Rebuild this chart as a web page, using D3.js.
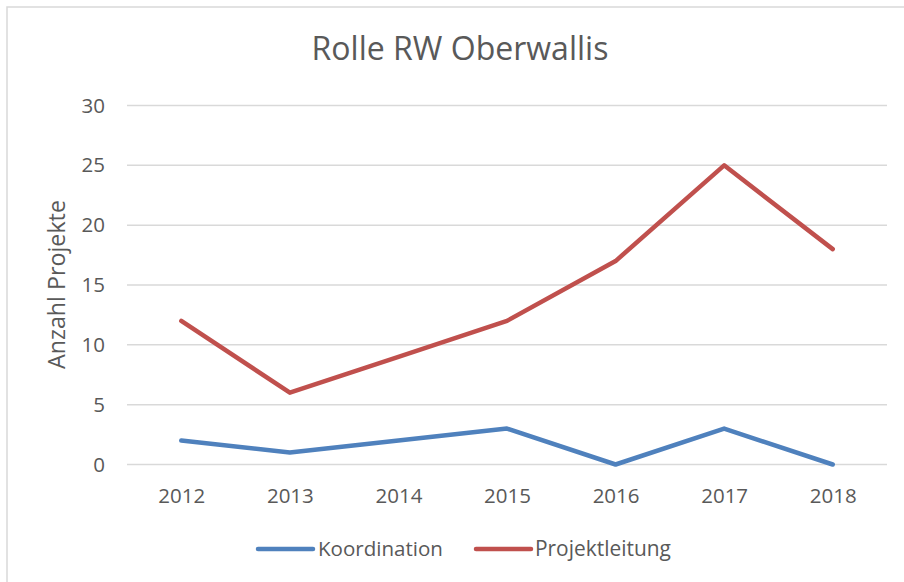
<!DOCTYPE html>
<html>
<head>
<meta charset="utf-8">
<script src="https://cdn.jsdelivr.net/npm/d3@7"></script>
<style>
  html, body { margin: 0; padding: 0; background: #fff; }
  svg { display: block; }
  text { font-family: "Open Sans", "Noto Sans", sans-serif; fill: #595959; }
</style>
</head>
<body>
<svg id="chart" width="904" height="582"></svg>
<script>
const title = "Rolle RW Oberwallis";
const yAxisLabel = "Anzahl Projekte";
const years = ["2012", "2013", "2014", "2015", "2016", "2017", "2018"];
const koordination = [2, 1, 2, 3, 0, 3, 0];
const projektleitung = [12, 6, 9, 12, 17, 25, 18];
const yTicks = [0, 5, 10, 15, 20, 25, 30];
const seriesNames = ["Koordination", "Projektleitung"];
const seriesColors = ["#4F81BD", "#C0504D"];

const svg = d3.select("#chart");

// chart border (extends beyond the right/bottom edges like the reference)
svg.append("rect")
  .attr("x", 7).attr("y", 7).attr("width", 910).attr("height", 590)
  .attr("fill", "#fff").attr("stroke", "#d9d9d9").attr("stroke-width", 1.5);

const plot = { left: 127, right: 887, top: 105.5, bottom: 464.5 };

const x = d3.scalePoint().domain(years).range([plot.left, plot.right]).padding(0.5);
const y = d3.scaleLinear().domain([0, 30]).range([plot.bottom, plot.top]);

function fit(sel, target) {
  const w = sel.node().getComputedTextLength();
  const fs = parseFloat(sel.attr("font-size"));
  sel.attr("font-size", fs * target / w);
}

// gridlines
svg.append("g").selectAll("line").data(yTicks).join("line")
  .attr("x1", plot.left).attr("x2", plot.right)
  .attr("y1", d => y(d)).attr("y2", d => y(d))
  .attr("stroke", "#d9d9d9").attr("stroke-width", 1.5);

// y tick labels
const yAxis = d3.axisLeft(y).tickValues(yTicks).tickSize(0).tickPadding(0);
const gy = svg.append("g").attr("transform", "translate(105,0)").call(yAxis);
gy.select(".domain").remove();
gy.selectAll("text").attr("font-size", 20.5).attr("fill", "#595959")
  .attr("font-family", '"Open Sans", sans-serif');

// x tick labels
const xAxis = d3.axisBottom(x).tickSize(0).tickPadding(0);
const gx = svg.append("g").attr("transform", "translate(0,503)").call(xAxis);
gx.select(".domain").remove();
gx.selectAll("text").attr("font-size", 20.5).attr("fill", "#595959")
  .attr("y", 0).attr("dy", 0)
  .attr("font-family", '"Open Sans", sans-serif');

// lines
const line = d3.line().x((d, i) => x(years[i])).y(d => y(d));
[koordination, projektleitung].forEach((s, i) => {
  svg.append("path").datum(s)
    .attr("d", line)
    .attr("fill", "none")
    .attr("stroke", seriesColors[i])
    .attr("stroke-width", 4.5)
    .attr("stroke-linejoin", "round")
    .attr("stroke-linecap", "round");
});

// title
const t = svg.append("text").attr("x", 460).attr("y", 60)
  .attr("text-anchor", "middle").attr("font-size", 28).text(title);
fit(t, 297);

// y axis label
const yl = svg.append("text")
  .attr("transform", "translate(65,284.5) rotate(-90)")
  .attr("text-anchor", "middle").attr("font-size", 19).text(yAxisLabel);
fit(yl, 169);

// legend
const legendItems = [
  { lx: 258, tx: 318, tw: 125 },
  { lx: 476, tx: 535, tw: 136 }
];
legendItems.forEach((it, i) => {
  svg.append("line")
    .attr("x1", it.lx).attr("x2", it.lx + 55)
    .attr("y1", 549).attr("y2", 549)
    .attr("stroke", seriesColors[i]).attr("stroke-width", 4.5)
    .attr("stroke-linecap", "round");
  const lt = svg.append("text").attr("x", it.tx).attr("y", 556)
    .attr("font-size", 19).text(seriesNames[i]);
  fit(lt, it.tw);
});
</script>
</body>
</html>
